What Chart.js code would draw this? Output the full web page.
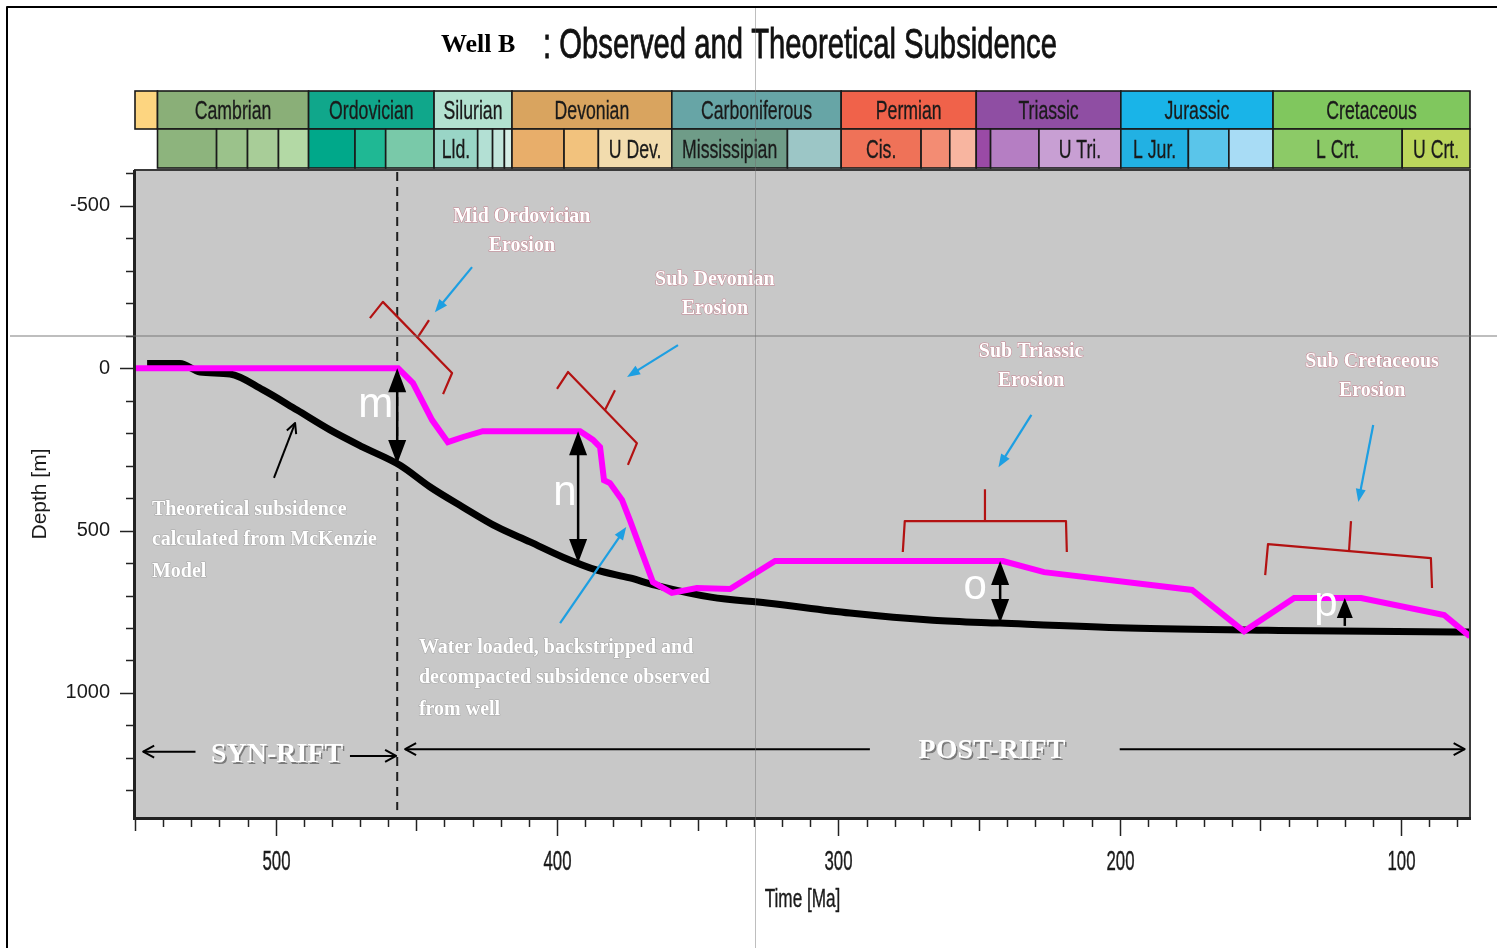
<!DOCTYPE html>
<html>
<head>
<meta charset="utf-8">
<title>Well B: Observed and Theoretical Subsidence</title>
<script src="https://cdn.jsdelivr.net/npm/chart.js@4.4.1/dist/chart.umd.min.js"></script>
<style>
  html, body { margin: 0; padding: 0; background: #ffffff; overflow: hidden; }
  #wrap { position: relative; width: 1497px; height: 948px; }
  canvas { display: block; }
</style>
</head>
<body>
<div id="wrap"><canvas id="c" width="1497" height="948"></canvas></div>
<script>
// ---- Data -------------------------------------------------------------
// Observed subsidence: water loaded, backstripped and decompacted (age in Ma, depth in m)
const observedAge   = [550, 456.5, 451.2, 444.4, 438.8, 433.4, 426.4, 391.8, 387.2, 384.7, 383.3, 381.2, 376.9, 374.1, 365.9, 359.2, 350.3, 338.5, 322.5, 241.5, 226.9, 174.3, 155.8, 138.0, 114.2, 84.7, 75.5];
const observedDepth = [0, 0, 46, 160, 228, 212, 194, 194, 221, 243, 345, 354, 406, 468, 659, 692, 677, 680, 594, 594, 628, 683, 810, 708, 708, 760, 826];

// Theoretical subsidence calculated from the McKenzie model
const theoryAge   = [545.7, 534.0, 526.9, 516.2, 504.5, 492.4, 480.7, 469.0, 455.8, 445.1, 433.4, 421.3, 409.6, 397.9, 385.8, 374.1, 365.2, 345.3, 325.4, 295.9, 266.4, 242.6, 197.0, 147.6, 80.8, 75.5];
const theoryDepth = [-14, -14, 12, 18, 67, 129, 190, 243, 299, 366, 428, 489, 535, 582, 622, 646, 668, 705, 723, 754, 776, 785, 800, 807, 812, 812];

// Geologic time scale (GTS 2008), ages in Ma
const periodNames = ['', 'Cambrian', 'Ordovician', 'Silurian', 'Devonian', 'Carboniferous', 'Permian', 'Triassic', 'Jurassic', 'Cretaceous'];
const periodStart = [550, 542, 488.3, 443.7, 416, 359.2, 299, 251, 199.6, 145.5];
const epochNames  = ['', '', '', '', '', '', '', 'Lld.', '', '', '', '', '', 'U Dev.', 'Mississipian', '', 'Cis.', '', '', '', '', 'U Tri.', 'L Jur.', '', '', 'L Crt.', 'U Crt.'];
const epochStart  = [542, 521, 510, 499, 488.3, 471.8, 460.9, 443.7, 428.2, 422.9, 418.7, 416, 397.5, 385.3, 359.2, 318.1, 299, 270.6, 260.4, 251, 245.9, 228.7, 199.6, 175.6, 161.2, 145.5, 99.6];
const timeScaleEnd = 65.5;

// Axis tick labels
const xLabelTicks = [500, 400, 300, 200, 100];
const yLabelTicks = [-500, 0, 500, 1000];

// ---- Styling ----------------------------------------------------------
const periodColors = ['#fdd580', '#8aaf78', '#10a78b', '#b3e2d0', '#d9a45f', '#67a5a6', '#f0624a', '#8f4ea3', '#19b4e8', '#80c75e'];
const epochColors  = ['#8db47d', '#9bc28b', '#a8cd98', '#b3d9a5',
                      '#00a88a', '#1fb894', '#79c9a9',
                      '#99d5c6', '#b3e0d4', '#c2e6dc', '#d5eee6',
                      '#e8ae6a', '#f2c27d', '#f2dcae',
                      '#6f9c88', '#9cc6c6',
                      '#ef7258', '#f38c73', '#f8b5a0',
                      '#9a4aa6', '#b57ec3', '#c89fd3',
                      '#22b1e3', '#5ac5ea', '#a8dcf5',
                      '#8cca67', '#bcd65c'];

const X_MIN = 75.5, X_MAX = 550, Y_MIN = -610, Y_MAX = 1385;
const SANS = '"Liberation Sans", Arial, sans-serif';
const SERIF = '"Liberation Serif", "Times New Roman", serif';

// Annotations, placed in axis units (age Ma, depth m)
const erosionLabels = [
  { lines: ['Mid Ordovician', 'Erosion'], age: 412.5, depth: [-465, -376] },
  { lines: ['Sub Devonian', 'Erosion'],   age: 343.9, depth: [-271, -182] },
  { lines: ['Sub Triassic', 'Erosion'],   age: 231.5, depth: [-50, 40] },
  { lines: ['Sub Cretaceous', 'Erosion'], age: 110.3, depth: [-19, 70] }
];
const brackets = [
  { path: [[466.5, -154], [461.9, -204], [437.3, 15], [440.5, 80]],  tick: [[449.4, -96], [445.5, -148]] },
  { path: [[400.0, 64], [396.1, 12], [371.6, 231], [374.8, 298]],    tick: [[382.9, 128], [379.4, 68]] },
  { path: [[277.1, 566], [276.4, 471], [219.1, 471], [218.8, 566]],  tick: [[247.9, 471], [247.9, 373]] },
  { path: [[148.3, 637], [147.3, 542], [89.4, 585], [89.0, 677]],    tick: [[118.5, 563], [117.8, 471]] }
];
const blueArrows = [
  [[430.2, -311], [443.4, -172]],
  [[357.0, -71], [375.1, 27]],
  [[231.4, 144], [243.1, 305]],
  [[109.9, 175], [115.2, 412]],
  [[398.9, 785], [375.4, 489]]
];
const gapArrows = [
  { age: 456.8, label: 'm', at: [464.4, 114], both: true },
  { age: 392.5, label: 'n', at: [397.2, 385], both: true },
  { age: 242.5, label: 'o', at: [251.4, 674], both: true },
  { age: 120.0, label: 'p', at: [126.7, 728], both: false }
];
const riftBoundaryAge = 456.8;
const noteBlocks = [
  { lines: ['Theoretical subsidence', 'calculated from McKenzie', 'Model'], age: 544.0, depth: [437, 529, 628] },
  { lines: ['Water loaded, backstripped and', 'decompacted subsidence observed', 'from well'], age: 449.1, depth: [862, 954, 1052] }
];
const theoryPointer = [[500.6, 338], [493.1, 169]];
const riftArrows = [
  [[528.5, 1181], [547.1, 1181]],
  [[473.6, 1194], [457.2, 1194]],
  [[288.8, 1173], [454.0, 1173]],
  [[200.0, 1173], [77.4, 1173]]
];
const riftLabels = [
  { text: 'SYN-RIFT',  age: 499.5, depth: 1191 },
  { text: 'POST-RIFT', age: 245.4, depth: 1179 }
];

// ---- Helpers ----------------------------------------------------------
function depthAt(ages, depths, age) {
  for (let i = 0; i < ages.length - 1; i++) {
    const a0 = ages[i], a1 = ages[i + 1];
    if (age <= a0 && age >= a1) {
      const t = a0 === a1 ? 0 : (a0 - age) / (a0 - a1);
      return depths[i] + t * (depths[i + 1] - depths[i]);
    }
  }
  return depths[depths.length - 1];
}

function head(ctx, x1, y1, x2, y2, len, half, open) {
  const ang = Math.atan2(y2 - y1, x2 - x1);
  const c = Math.cos(ang), s = Math.sin(ang);
  const bx = x2 - len * c, by = y2 - len * s;
  ctx.beginPath();
  if (open) {
    ctx.moveTo(bx + half * s, by - half * c);
    ctx.lineTo(x2, y2);
    ctx.lineTo(bx - half * s, by + half * c);
    ctx.stroke();
  } else {
    ctx.moveTo(x2, y2);
    ctx.lineTo(bx + half * s, by - half * c);
    ctx.lineTo(bx - half * s, by + half * c);
    ctx.closePath();
    ctx.fill();
  }
}

function arrow(ctx, x1, y1, x2, y2, len, half, open) {
  const ang = Math.atan2(y2 - y1, x2 - x1);
  const stop = open ? 0 : len * 0.8;
  ctx.beginPath();
  ctx.moveTo(x1, y1);
  ctx.lineTo(x2 - stop * Math.cos(ang), y2 - stop * Math.sin(ang));
  ctx.stroke();
  head(ctx, x1, y1, x2, y2, len, half, open);
}

// Condensed text: the glyphs are drawn at full height and squeezed horizontally
function squeezedText(ctx, text, x, y, font, sx, align, color, weight) {
  ctx.save();
  ctx.font = font;
  ctx.fillStyle = color;
  ctx.textBaseline = 'middle';
  ctx.textAlign = align;
  ctx.translate(x, y);
  ctx.scale(sx, 1);
  if (weight) {
    ctx.strokeStyle = color;
    ctx.lineWidth = weight;
    ctx.strokeText(text, 0, 0);
  }
  ctx.fillText(text, 0, 0);
  ctx.restore();
}

// ---- Plugin: background, time scale bar, ticks, annotations ------------
const decor = {
  id: 'decor',
  beforeDraw(chart) {
    const { ctx, chartArea: a } = chart;
    ctx.save();
    ctx.fillStyle = '#ffffff';
    ctx.fillRect(0, 0, chart.width, chart.height);
    ctx.fillStyle = '#c8c8c8';
    ctx.fillRect(a.left, a.top, a.right - a.left, a.bottom - a.top);
    ctx.restore();
  },
  beforeDatasetsDraw(chart) {
    const { ctx, chartArea: a, scales: { x } } = chart;
    const px = x.getPixelForValue(riftBoundaryAge);
    ctx.save();
    ctx.strokeStyle = '#1e1e1e';
    ctx.lineWidth = 2;
    ctx.setLineDash([9, 6]);
    ctx.beginPath();
    ctx.moveTo(px, a.top + 2);
    ctx.lineTo(px, a.bottom - 8);
    ctx.stroke();
    ctx.restore();
  },
  afterDatasetsDraw(chart) {
    const { ctx, chartArea: a, scales: { x, y } } = chart;
    const P = (age, depth) => [x.getPixelForValue(age), y.getPixelForValue(depth)];
    ctx.save();

    // plot frame and axis lines
    ctx.strokeStyle = '#3a3a3a';
    ctx.lineWidth = 2;
    ctx.strokeRect(a.left, a.top, a.right - a.left, a.bottom - a.top);
    ctx.fillStyle = '#222';
    ctx.fillRect(a.left - 2, a.top, 3, a.bottom - a.top + 2);
    ctx.fillRect(a.left - 2, a.bottom - 1, a.right - a.left + 3, 3);

    // tick marks
    ctx.strokeStyle = '#222';
    ctx.lineWidth = 1.5;
    y.ticks.forEach(t => {
      const py = Math.round(y.getPixelForValue(t.value)) + 0.5;
      const len = t.value % 500 === 0 ? 12 : 6;
      ctx.beginPath();
      ctx.moveTo(a.left - 3 - len, py);
      ctx.lineTo(a.left - 2, py);
      ctx.stroke();
    });
    x.ticks.forEach(t => {
      const px = Math.round(x.getPixelForValue(t.value)) + 0.5;
      const len = t.value % 100 === 0 ? 17 : (t.value % 50 === 0 ? 12 : 8);
      ctx.beginPath();
      ctx.moveTo(px, a.bottom + 1);
      ctx.lineTo(px, a.bottom + 1 + len);
      ctx.stroke();
      if (t.label) {
        squeezedText(ctx, t.label, px, a.bottom + 44, '28px ' + SANS, 0.6, 'center', '#1a1a1a', 0.4);
      }
    });
    squeezedText(ctx, 'Time [Ma]', (a.left + a.right) / 2, a.bottom + 82, '26px ' + SANS, 0.66, 'center', '#1a1a1a', 0.4);

    // geologic time scale bar
    const row1 = [91, 129], row2 = [129, 168];
    const clampPx = age => x.getPixelForValue(Math.max(X_MIN, Math.min(X_MAX, age)));
    const drawRow = (names, starts, colors, rows) => {
      for (let i = 0; i < starts.length; i++) {
        const x1 = clampPx(starts[i]);
        const x2 = clampPx(i + 1 < starts.length ? starts[i + 1] : timeScaleEnd);
        ctx.fillStyle = colors[i];
        ctx.fillRect(x1, rows[0], x2 - x1, rows[1] - rows[0]);
        ctx.strokeStyle = '#1a1a1a';
        ctx.lineWidth = 1.6;
        ctx.strokeRect(x1, rows[0], x2 - x1, rows[1] - rows[0]);
        if (names[i]) {
          squeezedText(ctx, names[i], (x1 + x2) / 2, (rows[0] + rows[1]) / 2 + 2,
                       '26px ' + SANS, 0.68, 'center', '#1a1a1a', 0.3);
        }
      }
    };
    drawRow(periodNames, periodStart, periodColors, row1);
    drawRow(epochNames, epochStart, epochColors, row2);

    // title
    ctx.font = 'bold 26px ' + SERIF;
    ctx.fillStyle = '#000';
    ctx.textBaseline = 'middle';
    ctx.textAlign = 'left';
    ctx.fillText('Well B', 441, 45);
    const titleText = ': Observed and Theoretical Subsidence';
    ctx.font = '42px ' + SANS;
    const tw = ctx.measureText(titleText).width;
    squeezedText(ctx, titleText, 543, 46, '42px ' + SANS, 514 / tw, 'left', '#111', 0.8);

    // red brackets
    ctx.strokeStyle = '#b31212';
    ctx.lineWidth = 2.2;
    ctx.lineJoin = 'round';
    brackets.forEach(b => {
      ctx.beginPath();
      b.path.forEach((p, i) => {
        const [px, py] = P(p[0], p[1]);
        i ? ctx.lineTo(px, py) : ctx.moveTo(px, py);
      });
      ctx.stroke();
      const [t1x, t1y] = P(b.tick[0][0], b.tick[0][1]);
      const [t2x, t2y] = P(b.tick[1][0], b.tick[1][1]);
      ctx.beginPath();
      ctx.moveTo(t1x, t1y);
      ctx.lineTo(t2x, t2y);
      ctx.stroke();
    });

    // blue pointer arrows
    ctx.strokeStyle = '#1d9fe2';
    ctx.fillStyle = '#1d9fe2';
    ctx.lineWidth = 2.2;
    blueArrows.forEach(([from, to]) => {
      const [x1, y1] = P(from[0], from[1]);
      const [x2, y2] = P(to[0], to[1]);
      arrow(ctx, x1, y1, x2, y2, 13, 5, false);
    });

    // pointer to the theoretical curve
    ctx.strokeStyle = '#000';
    ctx.fillStyle = '#000';
    ctx.lineWidth = 2;
    {
      const [x1, y1] = P(theoryPointer[0][0], theoryPointer[0][1]);
      const [x2, y2] = P(theoryPointer[1][0], theoryPointer[1][1]);
      arrow(ctx, x1, y1, x2, y2, 10, 5, true);
    }

    // gap arrows between observed and theoretical curves
    gapArrows.forEach(g => {
      const [px, pyObs] = P(g.age, depthAt(observedAge, observedDepth, g.age));
      const pyTh = y.getPixelForValue(depthAt(theoryAge, theoryDepth, g.age)) - (g.both ? 0 : 5);
      ctx.lineWidth = 2.5;
      ctx.beginPath();
      ctx.moveTo(px, pyObs + 15);
      ctx.lineTo(px, pyTh - (g.both ? 15 : 0));
      ctx.stroke();
      const hl = g.both ? 24 : 20, hh = g.both ? 9 : 8;
      head(ctx, px, pyTh, px, pyObs, hl, hh, false);
      if (g.both) head(ctx, px, pyObs, px, pyTh, hl, hh, false);
    });

    // curve letters
    ctx.font = '42px ' + SANS;
    ctx.fillStyle = '#ffffff';
    ctx.textAlign = 'center';
    ctx.textBaseline = 'middle';
    gapArrows.forEach(g => {
      const [lx, ly] = P(g.at[0], g.at[1]);
      ctx.fillText(g.label, lx, ly);
    });

    // erosion labels: white lettering with a thin red fringe
    ctx.font = 'bold 20px ' + SERIF;
    ctx.textAlign = 'center';
    erosionLabels.forEach(l => {
      l.lines.forEach((t, i) => {
        const [lx, ly] = P(l.age, l.depth[i]);
        ctx.strokeStyle = 'rgba(200,50,80,0.45)';
        ctx.lineWidth = 1.1;
        ctx.strokeText(t, lx, ly);
        ctx.fillStyle = '#ffffff';
        ctx.fillText(t, lx, ly);
      });
    });

    // explanatory notes
    ctx.textAlign = 'left';
    noteBlocks.forEach(n => {
      n.lines.forEach((t, i) => {
        const [lx, ly] = P(n.age, n.depth[i]);
        ctx.strokeStyle = 'rgba(140,140,140,0.5)';
        ctx.lineWidth = 1.2;
        ctx.strokeText(t, lx, ly);
        ctx.fillStyle = '#ffffff';
        ctx.fillText(t, lx, ly);
      });
    });

    // rift phase arrows and labels
    ctx.strokeStyle = '#000';
    ctx.lineWidth = 2;
    riftArrows.forEach(([from, to]) => {
      const [x1, y1] = P(from[0], from[1]);
      const [x2, y2] = P(to[0], to[1]);
      arrow(ctx, x1, y1, x2, y2, 11, 6, true);
    });
    ctx.font = 'bold 28px ' + SERIF;
    ctx.textAlign = 'center';
    riftLabels.forEach(r => {
      const [lx, ly] = P(r.age, r.depth);
      ctx.fillStyle = 'rgba(90,90,90,0.7)';
      ctx.fillText(r.text, lx + 1.5, ly + 1.5);
      ctx.fillStyle = '#ffffff';
      ctx.fillText(r.text, lx, ly);
    });

    // page guide lines and outer frame
    ctx.strokeStyle = 'rgba(110,110,110,0.45)';
    ctx.lineWidth = 2;
    ctx.beginPath();
    ctx.moveTo(10, 336);
    ctx.lineTo(chart.width, 336);
    ctx.stroke();
    ctx.lineWidth = 1;
    ctx.beginPath();
    ctx.moveTo(755.5, 8);
    ctx.lineTo(755.5, chart.height);
    ctx.stroke();

    ctx.strokeStyle = '#000';
    ctx.lineWidth = 2;
    ctx.beginPath();
    ctx.moveTo(7, chart.height);
    ctx.lineTo(7, 7);
    ctx.lineTo(chart.width, 7);
    ctx.stroke();

    ctx.restore();
  }
};

// ---- Chart -------------------------------------------------------------
const toPoints = (xs, ys) => xs.map((v, i) => ({ x: v, y: ys[i] }));
const stepTicks = (min, max, step) => {
  const out = [];
  for (let v = Math.ceil(min / step) * step; v <= max; v += step) out.push({ value: v });
  return out;
};

new Chart(document.getElementById('c'), {
  type: 'line',
  data: {
    datasets: [
      {
        label: 'Observed subsidence',
        data: toPoints(observedAge, observedDepth),
        borderColor: '#ff00ff',
        borderWidth: 6,
        pointRadius: 0,
        tension: 0,
        order: 0
      },
      {
        label: 'Theoretical subsidence (McKenzie)',
        data: toPoints(theoryAge, theoryDepth),
        borderColor: '#000000',
        borderWidth: 7,
        pointRadius: 0,
        cubicInterpolationMode: 'monotone',
        order: 1
      }
    ]
  },
  options: {
    responsive: false,
    animation: false,
    devicePixelRatio: 1,
    layout: { padding: { left: 20, right: 27, top: 170, bottom: 20 } },
    plugins: { legend: { display: false }, tooltip: { enabled: false } },
    scales: {
      x: {
        type: 'linear',
        reverse: true,
        min: X_MIN,
        max: X_MAX,
        afterBuildTicks: s => { s.ticks = stepTicks(80, 550, 10); },
        afterFit: s => { s.height = 110; },
        grid: { display: false, drawTicks: false },
        border: { display: false },
        ticks: {
          autoSkip: false,
          maxRotation: 0,
          padding: 30,
          color: 'rgba(0,0,0,0)',
          font: { family: SANS, size: 24 },
          callback: v => (xLabelTicks.includes(v) ? String(v) : '')
        },
        title: { display: false }
      },
      y: {
        type: 'linear',
        reverse: true,
        min: Y_MIN,
        max: Y_MAX,
        afterBuildTicks: s => { s.ticks = stepTicks(-600, 1300, 100); },
        afterFit: s => { s.width = 115; },
        grid: { display: false, drawTicks: false },
        border: { display: false },
        ticks: {
          autoSkip: false,
          padding: 25,
          color: '#1a1a1a',
          font: { family: SANS, size: 20 },
          callback: v => (yLabelTicks.includes(v) ? String(v) : '')
        },
        title: {
          display: true,
          text: 'Depth [m]',
          color: '#1a1a1a',
          font: { family: SANS, size: 21 },
          padding: { top: 8 }
        }
      }
    }
  },
  plugins: [decor]
});
</script>
</body>
</html>
